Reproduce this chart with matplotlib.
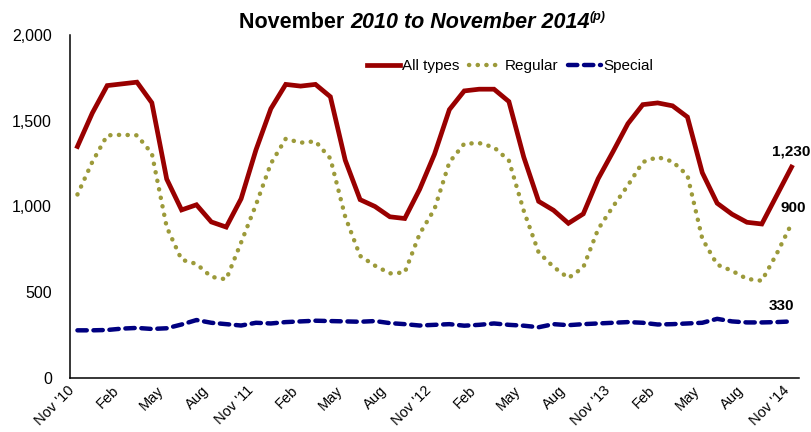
import matplotlib
matplotlib.use("Agg")
import matplotlib.pyplot as plt
import numpy as np

plt.rcParams['font.family'] = ['Liberation Sans', 'DejaVu Sans']

# ---- data (Nov 2010 .. Nov 2014, monthly) ----
all_types = [1350, 1545, 1705, 1715, 1725, 1605, 1160, 980, 1010, 910, 880, 1045,
             1330, 1570, 1712, 1702, 1712, 1640, 1270, 1040, 1000, 940, 930, 1100,
             1305, 1565, 1674, 1684, 1684, 1612, 1288, 1030, 978, 902, 957, 1162,
             1320, 1483, 1594, 1604, 1587, 1522, 1197, 1019, 955, 908, 898, 1064,
             1230]
regular = [1070, 1260, 1415, 1418, 1415, 1310, 880, 690, 665, 590, 575, 790,
           1010, 1250, 1395, 1372, 1380, 1280, 940, 712, 655, 610, 615, 840,
           985, 1258, 1366, 1370, 1345, 1268, 975, 732, 648, 583, 645, 868,
           1000, 1123, 1259, 1288, 1262, 1182, 812, 661, 625, 578, 567, 724,
           900]
special = [278, 278, 280, 288, 292, 286, 290, 312, 338, 322, 314, 306,
           322, 318, 326, 330, 334, 332, 330, 328, 332, 320, 314, 306,
           310, 314, 305, 310, 318, 310, 305, 296, 314, 308, 314, 318,
           322, 326, 322, 312, 314, 318, 322, 345, 330, 324, 324, 326,
           330]
tick_labels = ["Nov '10", "Feb", "May", "Aug", "Nov '11", "Feb", "May", "Aug",
               "Nov '12", "Feb", "May", "Aug", "Nov '13", "Feb", "May", "Aug",
               "Nov '14"]
series_names = ["All types", "Regular", "Special"]
y_ticks = [0, 500, 1000, 1500, 2000]

fig = plt.figure(figsize=(8.11, 4.32), dpi=100)
ax = fig.add_axes([70/811, 54/432, (799-70)/811, (378-35)/432])

x = np.arange(len(all_types))
ax.plot(x, all_types, color='#990000', lw=3.4, solid_joinstyle='miter',
        label=series_names[0])
ax.plot(x, regular, color='#9C9A3A', lw=3.2, linestyle=(0, (0.05, 1.9)),
        dash_capstyle='round', label=series_names[1])
ax.plot(x, special, color='#000080', lw=3.2, linestyle=(0, (2.1, 1.5)),
        dash_capstyle='round', label=series_names[2])

ax.set_xlim(-0.5, len(all_types) - 0.5)
ax.set_ylim(0, 2000)
ax.set_yticks(y_ticks)
ax.set_yticklabels([f"{v:,}" for v in y_ticks], fontsize=11.5)
ax.set_xticks(x[::3])
ax.set_xticklabels(tick_labels, fontsize=10.5, rotation=45, ha='right')
ax.tick_params(axis='y', length=0, pad=13)
ax.tick_params(axis='x', length=0, pad=4)
for s in ['top', 'right']:
    ax.spines[s].set_visible(False)
for s in ['left', 'bottom']:
    ax.spines[s].set_linewidth(1.1)
    ax.spines[s].set_color('black')

leg = ax.legend(loc='center', bbox_to_anchor=((510 - 70) / 729, (378 - 66) / 343),
                ncol=3, frameon=False, fontsize=11, handlelength=2.2,
                handletextpad=0.15, columnspacing=0.6, borderaxespad=0)

# end labels
ax.annotate(f"{all_types[-1]:,}", (x[-1], all_types[-1]), xytext=(0, 6),
            textcoords='offset points', ha='center', va='bottom',
            fontsize=11, fontweight='bold')
ax.annotate(f"{regular[-1]:,}", (x[-1], regular[-1]), xytext=(1, 6),
            textcoords='offset points', ha='center', va='bottom',
            fontsize=11, fontweight='bold')
ax.annotate(f"{special[-1]:,}", (x[-1], special[-1]), xytext=(-7, 6),
            textcoords='offset points', ha='center', va='bottom',
            fontsize=11, fontweight='bold')

# title: mixed styles, centred
renderer = fig.canvas.get_renderer()
base_y = (432 - 28) / 432
parts = [("November ", 'normal', 15.5, 0),
         ("2010 to November 2014", 'italic', 15.5, 0),
         ("(p)", 'italic', 9, 8)]
objs = []
for txt, style, size, rise in parts:
    t = fig.text(0, base_y + rise / 432, txt, fontsize=size, fontweight='bold',
                 fontstyle=style, va='baseline', ha='left')
    objs.append(t)
widths = [o.get_window_extent(renderer).width for o in objs]
total = sum(widths)
cx = 422
xpos = cx - total / 2
for o, w in zip(objs, widths):
    o.set_x(xpos / 811)
    xpos += w

fig.savefig("out.png", dpi=100)
